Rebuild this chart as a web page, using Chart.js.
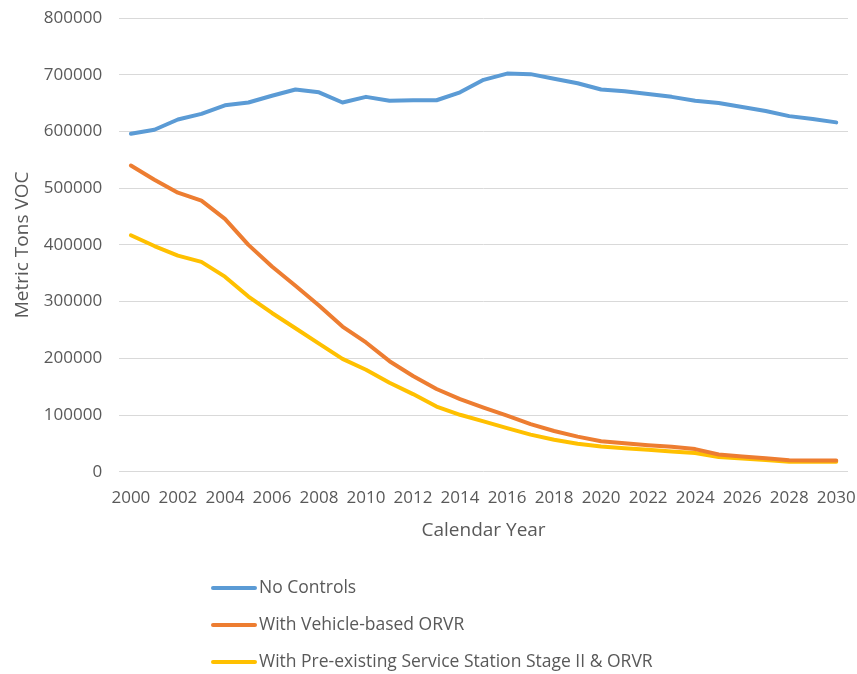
<!DOCTYPE html>
<html>
<head>
<meta charset="utf-8">
<script src="https://cdn.jsdelivr.net/npm/chart.js@4/dist/chart.umd.min.js"></script>
<style>
  html, body { margin: 0; padding: 0; background: #fff; }
  #wrap { width: 857px; height: 674px; }
</style>
</head>
<body>
<div id="wrap"><canvas id="lineChart"></canvas></div>
<script>
const years = ['2000','2001','2002','2003','2004','2005','2006','2007','2008','2009','2010',
  '2011','2012','2013','2014','2015','2016','2017','2018','2019','2020',
  '2021','2022','2023','2024','2025','2026','2027','2028','2029','2030'];

const noControls = [596000, 603000, 621000, 631000, 646000, 651000, 663000, 674000, 669000, 651000, 661000,
  654000, 655000, 655000, 669000, 691000, 702000, 701000, 693000, 685000, 674000,
  671000, 666000, 661000, 654000, 650000, 643000, 636000, 627000, 622000, 616000];

const vehicleOrvr = [540000, 515000, 492000, 478000, 446000, 400000, 362000, 328000, 293000, 256000, 228000,
  195000, 169000, 146000, 128000, 113000, 99000, 84000, 72000, 62000, 54000,
  50500, 47000, 44000, 40000, 30500, 27000, 24000, 20500, 20000, 20000];

const stageTwoOrvr = [417000, 398000, 381000, 370000, 344000, 309000, 280000, 253000, 226000, 199000, 180000,
  157000, 137000, 115000, 100500, 89000, 77000, 65500, 56500, 49500, 44500,
  41500, 38800, 35800, 33000, 26000, 23500, 21000, 17800, 17600, 17600];

const yTicks = [0, 100000, 200000, 300000, 400000, 500000, 600000, 700000, 800000];

const textColor = '#595959';
const fontFamily = '"Open Sans", sans-serif';

// legend stacked under the axis title, like the Excel original
const stackedLegend = {
    id: 'stackedLegend',
    afterDraw(chart) {
        const ctx = chart.ctx;
        const rowY = [chart.height - 86, chart.height - 49, chart.height - 12];
        ctx.save();
        ctx.font = '17.5px ' + fontFamily;
        ctx.textBaseline = 'middle';
        ctx.lineCap = 'round';
        chart.data.datasets.forEach((ds, i) => {
            ctx.strokeStyle = ds.borderColor;
            ctx.lineWidth = 4;
            ctx.beginPath();
            ctx.moveTo(213, rowY[i]);
            ctx.lineTo(255, rowY[i]);
            ctx.stroke();
            ctx.fillStyle = textColor;
            ctx.fillText(ds.label, 259, rowY[i]);
        });
        ctx.restore();
    }
};

const lineChartContext = document.getElementById('lineChart').getContext('2d');

const lineChart = new Chart(lineChartContext, {
    type: 'line',
    data: {
        labels: years,
        datasets: [
            {
                label: 'No Controls',
                data: noControls,
                borderColor: '#5B9BD5',
                backgroundColor: '#5B9BD5'
            },
            {
                label: 'With Vehicle-based ORVR',
                data: vehicleOrvr,
                borderColor: '#ED7D31',
                backgroundColor: '#ED7D31'
            },
            {
                label: 'With Pre-existing Service Station Stage II & ORVR',
                data: stageTwoOrvr,
                borderColor: '#FFC000',
                backgroundColor: '#FFC000'
            }
        ]
    },
    options: {
        responsive: true,
        maintainAspectRatio: false,
        animation: false,
        layout: {
            padding: { top: 18, right: 9, bottom: 132, left: 0 }
        },
        elements: {
            line: { borderWidth: 4, tension: 0, borderCapStyle: 'round', borderJoinStyle: 'round' },
            point: { radius: 0, hoverRadius: 0 }
        },
        plugins: {
            legend: { display: false },
            tooltip: { enabled: false }
        },
        scales: {
            x: {
                offset: true,
                grid: { display: false, drawTicks: false },
                border: { display: false },
                afterFit: function (axis) {
                    axis.paddingLeft = 0;
                    axis.paddingRight = 0;
                },
                ticks: {
                    color: textColor,
                    font: { family: fontFamily, size: 17 },
                    autoSkip: false,
                    maxRotation: 0,
                    padding: 16,
                    callback: function (value, index) {
                        return index % 2 === 0 ? years[index] : '';
                    }
                },
                title: {
                    display: true,
                    text: 'Calendar Year',
                    color: textColor,
                    font: { family: fontFamily, size: 19 },
                    padding: { top: -5, bottom: 0 }
                }
            },
            y: {
                min: yTicks[0],
                max: yTicks[yTicks.length - 1],
                grid: { color: '#D9D9D9', lineWidth: 1, drawTicks: false },
                border: { display: false },
                afterBuildTicks: function (axis) {
                    axis.ticks = yTicks.map(v => ({ value: v }));
                },
                afterFit: function (axis) {
                    axis.paddingTop = 0;
                    axis.paddingBottom = 0;
                },
                ticks: {
                    color: textColor,
                    font: { family: fontFamily, size: 17 },
                    padding: 17,
                    callback: value => String(value)
                },
                title: {
                    display: true,
                    text: 'Metric Tons VOC',
                    color: textColor,
                    font: { family: fontFamily, size: 19 },
                    padding: { top: 11, bottom: -7 }
                }
            }
        }
    },
    plugins: [stackedLegend]
});
</script>
</body>
</html>
